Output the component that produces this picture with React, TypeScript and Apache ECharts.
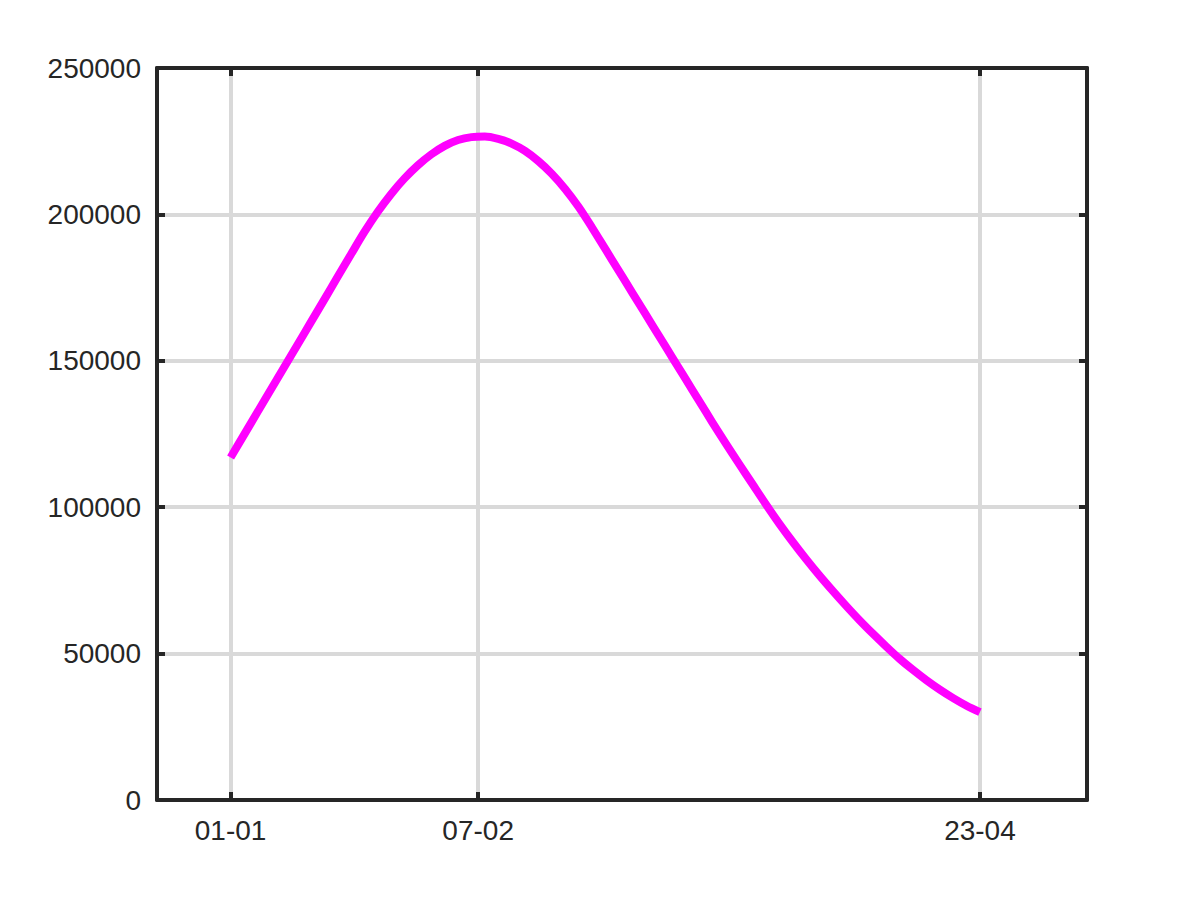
import React, { useEffect, useRef } from "react";
import * as echarts from "echarts";

// x positions are days counted from 01-01
const axisStartDay = -11;
const axisEndDay = 128;
const tickDays = [0, 37, 112];
const tickLabels = ["01-01", "07-02", "23-04"];

// curve samples (every 2 days)
const sampleDays = [
  0, 2, 4, 6, 8, 10, 12, 14, 16, 18, 20, 22, 24, 26, 28, 30, 32, 34, 36, 38, 40, 42, 44, 46,
  48, 50, 52, 54, 56, 58, 60, 62, 64, 66, 68, 70, 72, 74, 76, 78, 80, 82, 84, 86, 88, 90, 92,
  94, 96, 98, 100, 102, 104, 106, 108, 110, 112,
];
const sampleValues = [
  117000, 124700, 132400, 140100, 147800, 155500, 163200, 170900, 178700, 186400, 194000,
  200900, 207000, 212300, 216800, 220500, 223400, 225400, 226400, 226600, 225800, 224200,
  221700, 218200, 213900, 208700, 202600, 195600, 188200, 180800, 173400, 166000, 158600,
  151200, 143800, 136400, 129000, 121800, 114800, 107900, 101000, 94400, 88200, 82300,
  76700, 71400, 66300, 61400, 56800, 52400, 48200, 44400, 40900, 37700, 34800, 32200, 30000,
];

const yTicks = [0, 50000, 100000, 150000, 200000, 250000];

export default function App() {
  const ref = useRef<HTMLDivElement>(null);

  useEffect(() => {
    if (!ref.current) return;
    const chart = echarts.init(ref.current, null, { renderer: "svg" });

    const categories: string[] = [];
    for (let d = axisStartDay; d <= axisEndDay; d++) categories.push(String(d));

    const isTick = (index: number) => tickDays.indexOf(index + axisStartDay) >= 0;
    const labelFor = (value: string) => {
      const i = tickDays.indexOf(Number(value));
      return i >= 0 ? tickLabels[i] : "";
    };

    const axisColor = "#262626";
    const gridColor = "#d9d9d9";
    const font = "'Liberation Sans', Arial, Helvetica, sans-serif";

    const xBase = {
      type: "category",
      data: categories,
      boundaryGap: false,
      axisLine: { show: true, onZero: false, lineStyle: { color: axisColor, width: 4 } },
      axisTick: {
        show: true,
        inside: true,
        length: 8,
        interval: (i: number) => isTick(i),
        alignWithLabel: true,
        lineStyle: { color: axisColor, width: 4 },
      },
    };

    chart.setOption({
      animation: false,
      backgroundColor: "#ffffff",
      grid: { left: 157, right: 113, top: 68, bottom: 100, containLabel: false },
      xAxis: [
        {
          ...xBase,
          position: "bottom",
          axisLabel: {
            show: true,
            interval: (i: number) => isTick(i),
            formatter: (v: string) => labelFor(v),
            color: axisColor,
            fontSize: 28,
            fontFamily: font,
            margin: 16,
          },
          splitLine: {
            show: true,
            interval: (i: number) => isTick(i),
            lineStyle: { color: gridColor, width: 4 },
          },
        },
        {
          ...xBase,
          position: "top",
          axisLabel: { show: false },
          splitLine: { show: false },
        },
      ],
      yAxis: [
        {
          type: "value",
          min: 0,
          max: 250000,
          interval: 50000,
          position: "left",
          axisLine: { show: true, onZero: false, lineStyle: { color: axisColor, width: 4 } },
          axisTick: { show: true, inside: true, length: 8, lineStyle: { color: axisColor, width: 4 } },
          axisLabel: {
            color: axisColor,
            fontSize: 28,
            fontFamily: font,
            margin: 16,
            formatter: (v: number) => (yTicks.indexOf(v) >= 0 ? String(v) : ""),
          },
          splitLine: { show: true, lineStyle: { color: gridColor, width: 4 } },
        },
        {
          type: "value",
          min: 0,
          max: 250000,
          interval: 50000,
          position: "right",
          axisLine: { show: true, onZero: false, lineStyle: { color: axisColor, width: 4 } },
          axisTick: { show: true, inside: true, length: 8, lineStyle: { color: axisColor, width: 4 } },
          axisLabel: { show: false },
          splitLine: { show: false },
        },
      ],
      series: [
        {
          type: "line",
          xAxisIndex: 0,
          yAxisIndex: 0,
          data: sampleDays.map((d, i) => [String(d), sampleValues[i]]),
          smooth: 0.3,
          showSymbol: false,
          symbol: "none",
          lineStyle: { color: "#ff00ff", width: 8, cap: "butt", join: "round" },
          itemStyle: { color: "#ff00ff" },
          z: 5,
        },
      ],
    });

    return () => chart.dispose();
  }, []);

  return (
    <div
      ref={ref}
      style={{ position: "fixed", left: 0, top: 0, width: 1200, height: 900, background: "#fff" }}
    />
  );
}
